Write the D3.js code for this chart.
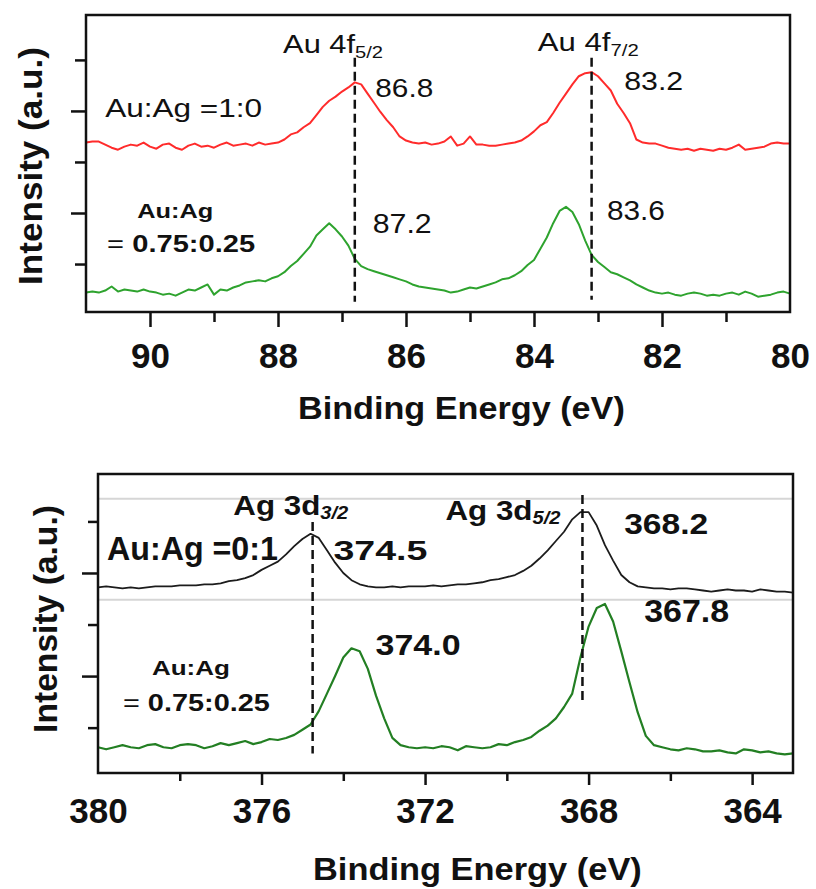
<!DOCTYPE html>
<html>
<head>
<meta charset="utf-8">
<script src="https://cdn.jsdelivr.net/npm/d3@7"></script>
<style>
body { margin: 0; background: #fff; }
svg text { font-family: "Liberation Sans", Arial, sans-serif; }
</style>
</head>
<body>
<svg id="chart" width="816" height="889"></svg>
<script>
// ---- data ----
// Au 4f region: 91.0 -> 80.0 eV, 0.1 eV per point (one row = 1 eV)
var auStart = 91.0, auStep = 0.1;
var auPure = [
  169,170,170,167,164,162,165,167,166,169,
  165,163,167,168,164,162,166,168,165,166,
  164,167,169,166,167,168,166,169,167,168,
  169,172,177,179,184,188,196,204,210,214,
  219,223,228,226,217,208,199,191,184,175,
  171,169,168,169,167,168,170,175,166,168,
  175,167,167,166,166,167,168,169,171,175,
  180,186,189,198,208,217,226,234,237,238,
  234,227,220,207,198,188,172,169,168,168,
  166,164,163,162,163,161,163,162,161,163,
  162,164,167,162,163,164,165,168,169,168,
  168
];
var auAlloy = [
  22,23,22,24,28,23,25,24,23,25,
  23,22,20,21,19,22,25,24,27,30,
  20,25,24,27,29,32,33,34,33,36,
  38,42,48,53,60,67,78,84,90,84,
  77,68,55,48,45,43,41,39,37,35,
  33,30,28,27,26,25,24,22,23,25,
  27,26,28,30,32,35,36,39,43,49,
  54,65,76,90,102,106,101,89,73,59,
  52,47,42,40,37,34,30,27,24,22,
  21,22,20,19,21,22,21,19,20,19,
  21,22,20,23,21,18,19,20,22,23,
  21
];
// Ag 3d region: 380.0 -> 363.0 eV, 0.2 eV per point (one row = 1 eV)
var agStart = 380.0, agStep = 0.2;
var agPure = [
  186,187,186,185,186,
  185,186,187,187,187,
  188,188,188,189,189,
  190,192,193,195,198,
  203,207,211,218,226,
  233,238,234,222,210,
  200,193,189,187,186,
  186,187,186,187,187,
  187,188,187,188,189,
  189,190,191,193,194,
  196,198,202,207,214,
  222,231,240,252,259,
  259,246,227,212,198,
  191,187,186,185,185,
  184,185,185,184,183,
  182,183,184,183,183,
  182,184,183,182,182,
  181
];
var agAlloy = [
  31,29,31,33,31,
  30,33,34,31,30,
  33,34,33,30,32,
  35,33,35,37,34,
  36,39,38,40,43,
  48,53,66,83,100,
  118,127,124,107,81,
  59,40,33,31,30,
  31,30,32,31,28,
  32,31,30,31,34,
  33,36,38,41,47,
  52,59,70,83,118,
  148,166,170,153,124,
  94,65,42,33,31,
  29,28,30,29,27,
  27,28,26,25,29,
  28,26,27,25,24,
  25
];

var auTickLabels = [90, 88, 86, 84, 82, 80];
var auMajor = [90, 88, 86, 84, 82];
var auMinor = [89, 87, 85, 83, 81];
var agTickLabels = [380, 376, 372, 368, 364];
var agMajor = [376, 372, 368, 364];
var agMinor = [378, 374, 370, 366];
var yMajor = [100, 200];
var yMinor = [50, 150, 250];

var auMarkers = [86.8, 83.1];        // dashed peak markers
var agMarkers = [374.75, 368.15];
var auPeakLabels = ["86.8", "83.2", "87.2", "83.6"];
var agPeakLabels = ["374.5", "368.2", "374.0", "367.8"];
var sampleLabels = ["Au:Ag =1:0", "Au:Ag =0:1", "Au:Ag", "= ", "0.75:0.25"];
var xTitle = "Binding Energy (eV)";
var yTitle = "Intensity (a.u.)";

// ---- drawing ----
var svg = d3.select("#chart");
var ink = "#111";

function series(values, start, step) {
  return values.map(function (v, i) { return { e: start - i * step, v: v }; });
}

function addText(g, parts, px, py, width, rotate) {
  var t = g.append("text").attr("fill", ink);
  parts.forEach(function (p) {
    t.append("tspan").text(p.t)
      .attr("font-size", p.size)
      .attr("font-weight", p.bold ? "bold" : "normal")
      .attr("font-style", p.italic ? "italic" : "normal")
      .attr("dy", p.dy || 0);
  });
  var sx = width / t.node().getComputedTextLength();
  if (rotate) {
    t.attr("text-anchor", "middle")
      .attr("transform", "translate(" + px + "," + py + ") rotate(-90) scale(" + sx + ",1)");
  } else {
    t.attr("transform", "translate(" + px + "," + py + ") scale(" + sx + ",1)");
  }
}

function styleTicks(sel) {
  sel.select(".domain").remove();
  sel.selectAll(".tick line").attr("stroke", ink).attr("stroke-width", 2.5);
}

function panel(c) {
  var g = svg.append("g");
  var x = d3.scaleLinear().domain(c.xDomain).range(c.xRange);
  var y = d3.scaleLinear().domain(c.yDomain).range(c.yRange);
  var line = d3.line().x(function (d) { return x(d.e); }).y(function (d) { return y(d.v); });

  (c.guides || []).forEach(function (gv) {
    g.append("line")
      .attr("x1", x(c.xDomain[0])).attr("x2", x(c.xDomain[1]))
      .attr("y1", y(gv)).attr("y2", y(gv))
      .attr("stroke", "#d6d6d6").attr("stroke-width", 2);
  });

  c.curves.forEach(function (cv) {
    g.append("path")
      .datum(series(cv.values, c.start, c.step))
      .attr("fill", "none")
      .attr("stroke", cv.color)
      .attr("stroke-width", cv.width)
      .attr("stroke-linejoin", "round")
      .attr("d", line);
  });

  c.markers.forEach(function (m, i) {
    g.append("line")
      .attr("x1", x(m)).attr("x2", x(m))
      .attr("y1", y(c.markerSpan[i][0])).attr("y2", y(c.markerSpan[i][1]))
      .attr("stroke", ink).attr("stroke-width", 2.5)
      .attr("stroke-dasharray", "9,5");
  });

  g.append("rect")
    .attr("x", x(c.xDomain[0])).attr("y", y(c.yDomain[1]))
    .attr("width", x(c.xDomain[1]) - x(c.xDomain[0]))
    .attr("height", y(c.yDomain[0]) - y(c.yDomain[1]))
    .attr("fill", "none").attr("stroke", ink).attr("stroke-width", 2.5);

  var yb = y(c.yDomain[0]), xl = x(c.xDomain[0]);
  g.append("g").attr("transform", "translate(0," + yb + ")")
    .call(d3.axisBottom(x).tickValues(c.major).tickSize(c.xMajorLen).tickFormat(""))
    .call(styleTicks);
  g.append("g").attr("transform", "translate(0," + yb + ")")
    .call(d3.axisBottom(x).tickValues(c.minor).tickSize(c.xMinorLen).tickFormat(""))
    .call(styleTicks);
  var lab = g.append("g").attr("transform", "translate(0," + yb + ")")
    .call(d3.axisBottom(x).tickValues(c.labels).tickSize(0).tickPadding(c.labelPad).tickFormat(d3.format("d")))
    .call(styleTicks);
  lab.selectAll("text")
    .attr("font-size", 35).attr("font-weight", "bold")
    .attr("font-family", "'Liberation Sans', Arial, sans-serif").attr("fill", ink);

  g.append("g").attr("transform", "translate(" + xl + ",0)")
    .call(d3.axisLeft(y).tickValues(yMajor).tickSize(c.yMajorLen).tickFormat(""))
    .call(styleTicks);
  g.append("g").attr("transform", "translate(" + xl + ",0)")
    .call(d3.axisLeft(y).tickValues(yMinor).tickSize(c.yMinorLen).tickFormat(""))
    .call(styleTicks);

  c.notes.forEach(function (n) {
    addText(g, n.parts, x(n.e), y(n.v), n.w, false);
  });

  addText(g, [{ t: xTitle, size: 32, bold: true }], c.xTitle[0], c.xTitle[1], c.xTitle[2], false);
  addText(g, [{ t: yTitle, size: 33, bold: true }], c.yTitle[0], c.yTitle[1], c.yTitle[2], true);
}

// Au 4f (top)
panel({
  xDomain: [91, 80], yDomain: [3, 294],
  xRange: [86, 790], yRange: [312, 15],
  start: auStart, step: auStep,
  curves: [
    { values: auPure, color: "#ff2b2b", width: 2 },
    { values: auAlloy, color: "#2ea32e", width: 2 }
  ],
  markers: auMarkers, markerSpan: [[252, 13], [252, 15]],
  major: auMajor, minor: auMinor, labels: auTickLabels,
  xMajorLen: 15, xMinorLen: 10, labelPad: 31,
  yMajorLen: 15, yMinorLen: 11,
  notes: [
    { parts: [{ t: "Au 4f", size: 26 }, { t: "5/2", size: 17, dy: 5 }], e: 87.92, v: 257, w: 100 },
    { parts: [{ t: auPeakLabels[0], size: 26 }], e: 86.48, v: 214, w: 58 },
    { parts: [{ t: "Au 4f", size: 26 }, { t: "7/2", size: 17, dy: 5 }], e: 83.94, v: 259, w: 101 },
    { parts: [{ t: auPeakLabels[1], size: 26 }], e: 82.59, v: 221, w: 59 },
    { parts: [{ t: sampleLabels[0], size: 26 }], e: 90.70, v: 194, w: 157 },
    { parts: [{ t: sampleLabels[2], size: 21, bold: true }], e: 90.20, v: 95, w: 76 },
    { parts: [{ t: sampleLabels[3], size: 23 }, { t: sampleLabels[4], size: 23, bold: true }], e: 90.67, v: 62, w: 148 },
    { parts: [{ t: auPeakLabels[2], size: 27 }], e: 86.52, v: 80, w: 59 },
    { parts: [{ t: auPeakLabels[3], size: 27 }], e: 82.86, v: 93, w: 58 }
  ],
  xTitle: [298, 419, 327],
  yTitle: [42, 166, 238]
});

// Ag 3d (bottom)
panel({
  xDomain: [380, 363], yDomain: [6, 296],
  xRange: [98, 793], yRange: [773, 474],
  start: agStart, step: agStep,
  guides: [272, 174],
  curves: [
    { values: agPure, color: "#1c1c1c", width: 1.8 },
    { values: agAlloy, color: "#237f23", width: 2.2 }
  ],
  markers: agMarkers, markerSpan: [[249.5, 25], [275.7, 74]],
  major: agMajor, minor: agMinor, labels: agTickLabels,
  xMajorLen: 12, xMinorLen: 8, labelPad: 25,
  yMajorLen: 16, yMinorLen: 10,
  notes: [
    { parts: [{ t: "Ag 3d", size: 28, bold: true }, { t: "3/2", size: 18, bold: true, italic: true, dy: 4 }], e: 376.69, v: 256.3, w: 115 },
    { parts: [{ t: agPeakLabels[0], size: 28, bold: true }], e: 374.24, v: 212.6, w: 94 },
    { parts: [{ t: "Ag 3d", size: 28, bold: true }, { t: "5/2", size: 18, bold: true, italic: true, dy: 4 }], e: 371.50, v: 251.5, w: 115 },
    { parts: [{ t: agPeakLabels[1], size: 29, bold: true }], e: 367.13, v: 237.9, w: 84 },
    { parts: [{ t: sampleLabels[1], size: 34, bold: true }], e: 379.78, v: 212.6, w: 171 },
    { parts: [{ t: agPeakLabels[2], size: 30, bold: true }], e: 373.21, v: 120.4, w: 85 },
    { parts: [{ t: agPeakLabels[3], size: 31, bold: true }], e: 366.64, v: 152.4, w: 85 },
    { parts: [{ t: sampleLabels[2], size: 21, bold: true }], e: 378.68, v: 101, w: 78 },
    { parts: [{ t: sampleLabels[3], size: 23 }, { t: sampleLabels[4], size: 23, bold: true }], e: 379.39, v: 66, w: 147 }
  ],
  xTitle: [313, 880, 329],
  yTitle: [57, 619, 228]
});
</script>
</body>
</html>
